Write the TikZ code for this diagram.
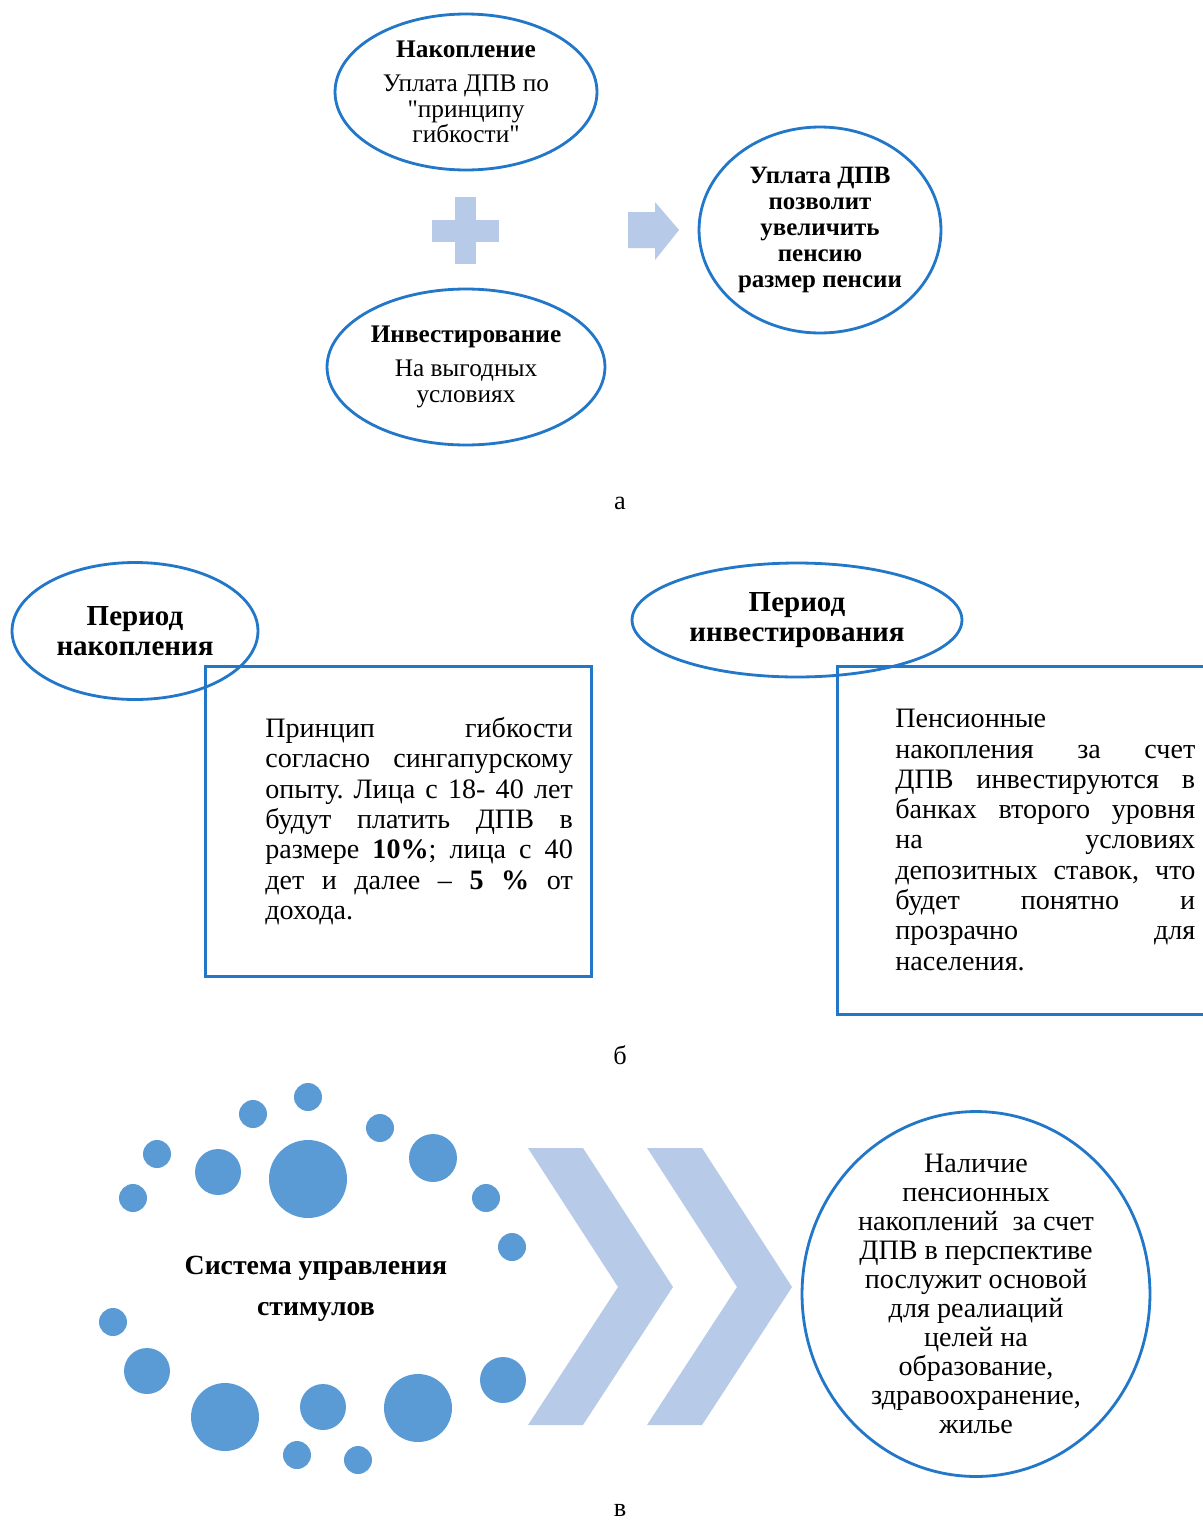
\documentclass[tikz,border=0pt]{standalone}
\usepackage{fontspec}
\setmainfont{Liberation Serif}
\usepackage{tikz}
\usetikzlibrary{positioning, calc, shapes.geometric}

\definecolor{lineblue}{RGB}{34,119,200}
\definecolor{paleblue}{RGB}{183,203,232}
\definecolor{dotblue}{RGB}{91,155,213}

\tikzset{oval/.style={ellipse, draw=lineblue, line width=1.6pt, inner sep=0pt}}
\tikzset{txtbox/.style={rectangle, draw=lineblue, line width=1.6pt, inner sep=0pt}}
\tikzset{bubble/.style={circle, fill=dotblue, inner sep=0pt}}
\tikzset{palefill/.style={fill=paleblue, draw=none}}
\tikzset{caption/.style={font=\fontsize{15}{17}\selectfont}}
\tikzset{boxtext/.style={inner sep=0pt, align=left, font=\fontsize{16}{17.25}\selectfont}}

% one justified line of a box text: #1 width, #2 words
\newcommand{\jline}[2]{\leavevmode\hbox to #1{\spaceskip=\fontdimen2\font plus 1fil\relax #2}\par}
% straight double quote, kept out of the TeX ligature mapping
\newcommand{\dq}{\XeTeXglyph\XeTeXcharglyph"22\relax}

\frenchspacing

\begin{document}
\begin{tikzpicture}[x=0.02cm, y=-0.02cm]

      \useasboundingbox (0,0) rectangle (1203,1521);
      \fill[white] (0,0) rectangle (1203,1521);
      \clip (0,0) rectangle (1203,1521);

      % PANEL A

      \node[oval, minimum width=5.24cm, minimum height=3.12cm] (acc) at (466,92) {};
      \node[oval, minimum width=5.56cm, minimum height=3.12cm] (inv) at (466,367) {};
      \node[oval, minimum width=4.84cm, minimum height=4.12cm] (res) at (820,230) {};

      \node[align=center, font=\fontsize{14.4}{14.5}\selectfont] (accText) at (acc.center)
        {\textbf{Накопление}\\[5pt] Уплата ДПВ по\\\dq принципу\\гибкости\dq};
      \node[align=center, font=\fontsize{14.4}{14.5}\selectfont] (invText) at (inv.center)
        {\textbf{Инвестирование}\\[5pt] На выгодных\\условиях};
      \node[align=center, font=\bfseries\fontsize{14.2}{14.8}\selectfont] (resText) at (res.center)
        {Уплата ДПВ\\позволит\\увеличить\\пенсию\\размер пенсии};

      % plus sign and arrow
      \fill[palefill] (432,220) rectangle (499,242);
      \fill[palefill] (455,197) rectangle (476,264);
      \fill[palefill] (628,212) -- (655,212) -- (655,202) -- (679,230)
        -- (655,260) -- (655,248) -- (628,248) -- cycle;

      \node[caption] (capA) at (620,503) {а};

      % PANEL B

      \node[oval, minimum width=4.92cm, minimum height=2.74cm] (accPeriod) at (135,631) {};
      \node[txtbox, anchor=north west, minimum width=7.72cm, minimum height=6.2cm] (accBox) at (204,665) {};
      \node[oval, minimum width=6.6cm, minimum height=2.28cm] (invPeriod) at (797,620) {};
      \node[txtbox, anchor=north west, minimum width=7.6cm, minimum height=6.96cm] (invBox) at (836,665) {};

      \node[align=center, font=\bfseries\fontsize{16.5}{17}\selectfont] (accPeriodText) at (accPeriod.center)
        {Период\\накопления};
      \node[align=center, font=\bfseries\fontsize{16.5}{17}\selectfont] (invPeriodText) at (invPeriod.center)
        {Период\\инвестирования};

      \node[boxtext, text width=175pt, anchor=north west] (accBoxText) at (265,717) {%
        \jline{175pt}{Принцип гибкости}
        \jline{175pt}{согласно сингапурскому}
        \jline{175pt}{опыту. Лица с 18- 40 лет}
        \jline{175pt}{будут платить ДПВ в}
        \jline{175pt}{размере \textbf{10\%}; лица с 40}
        \jline{175pt}{дет и далее – \textbf{5 \%} от}
        дохода.};

      \node[boxtext, text width=170.7pt, anchor=north west] (invBoxText) at (895,709) {%
        Пенсионные\par
        \jline{170.7pt}{накопления за счет}
        \jline{170.7pt}{ДПВ инвестируются в}
        \jline{170.7pt}{банках второго уровня}
        \jline{170.7pt}{на условиях}
        \jline{170.7pt}{депозитных ставок, что}
        \jline{170.7pt}{будет понятно и}
        \jline{170.7pt}{прозрачно для}
        населения.};

      \node[caption] (capB) at (620,1055) {б};

      % PANEL C

      \foreach \x/\y/\r [count=\i] in {308/1097/14, 253/1114/14, 157/1154/14, 133/1198/14,
          218/1172/23, 308/1179/39, 380/1128/14, 433/1158/24, 486/1198/14, 512/1247/14,
          113/1322/14, 147/1371/23, 225/1417/34, 323/1407/23, 418/1408/34, 503/1380/23,
          297/1455/14, 358/1460/14}
        \node[bubble, minimum size=\r*0.04cm] (b\i) at (\x,\y) {};

      \node[align=center, font=\bfseries\fontsize{15.8}{23.3}\selectfont] (sysText) at (316,1289)
        {Система управления\\стимулов};

      % chevrons
      \foreach \dx in {0,119}
        \fill[palefill, xshift=\dx*0.02cm] (528,1148) -- (583,1148) -- (673,1287)
          -- (583,1425) -- (528,1425) -- (618,1287) -- cycle;

      \node[oval, minimum width=6.96cm, minimum height=7.3cm] (goal) at (976,1294) {};
      \node[align=center, font=\fontsize{16}{16.5}\selectfont] (goalText) at (goal.center)
        {Наличие\\пенсионных\\накоплений~ за счет\\ДПВ в перспективе\\послужит основой\\для реалиаций\\целей на\\образование,\\здравоохранение,\\жилье};

      \node[caption] (capC) at (620,1510) {в};

\end{tikzpicture}
\end{document}
